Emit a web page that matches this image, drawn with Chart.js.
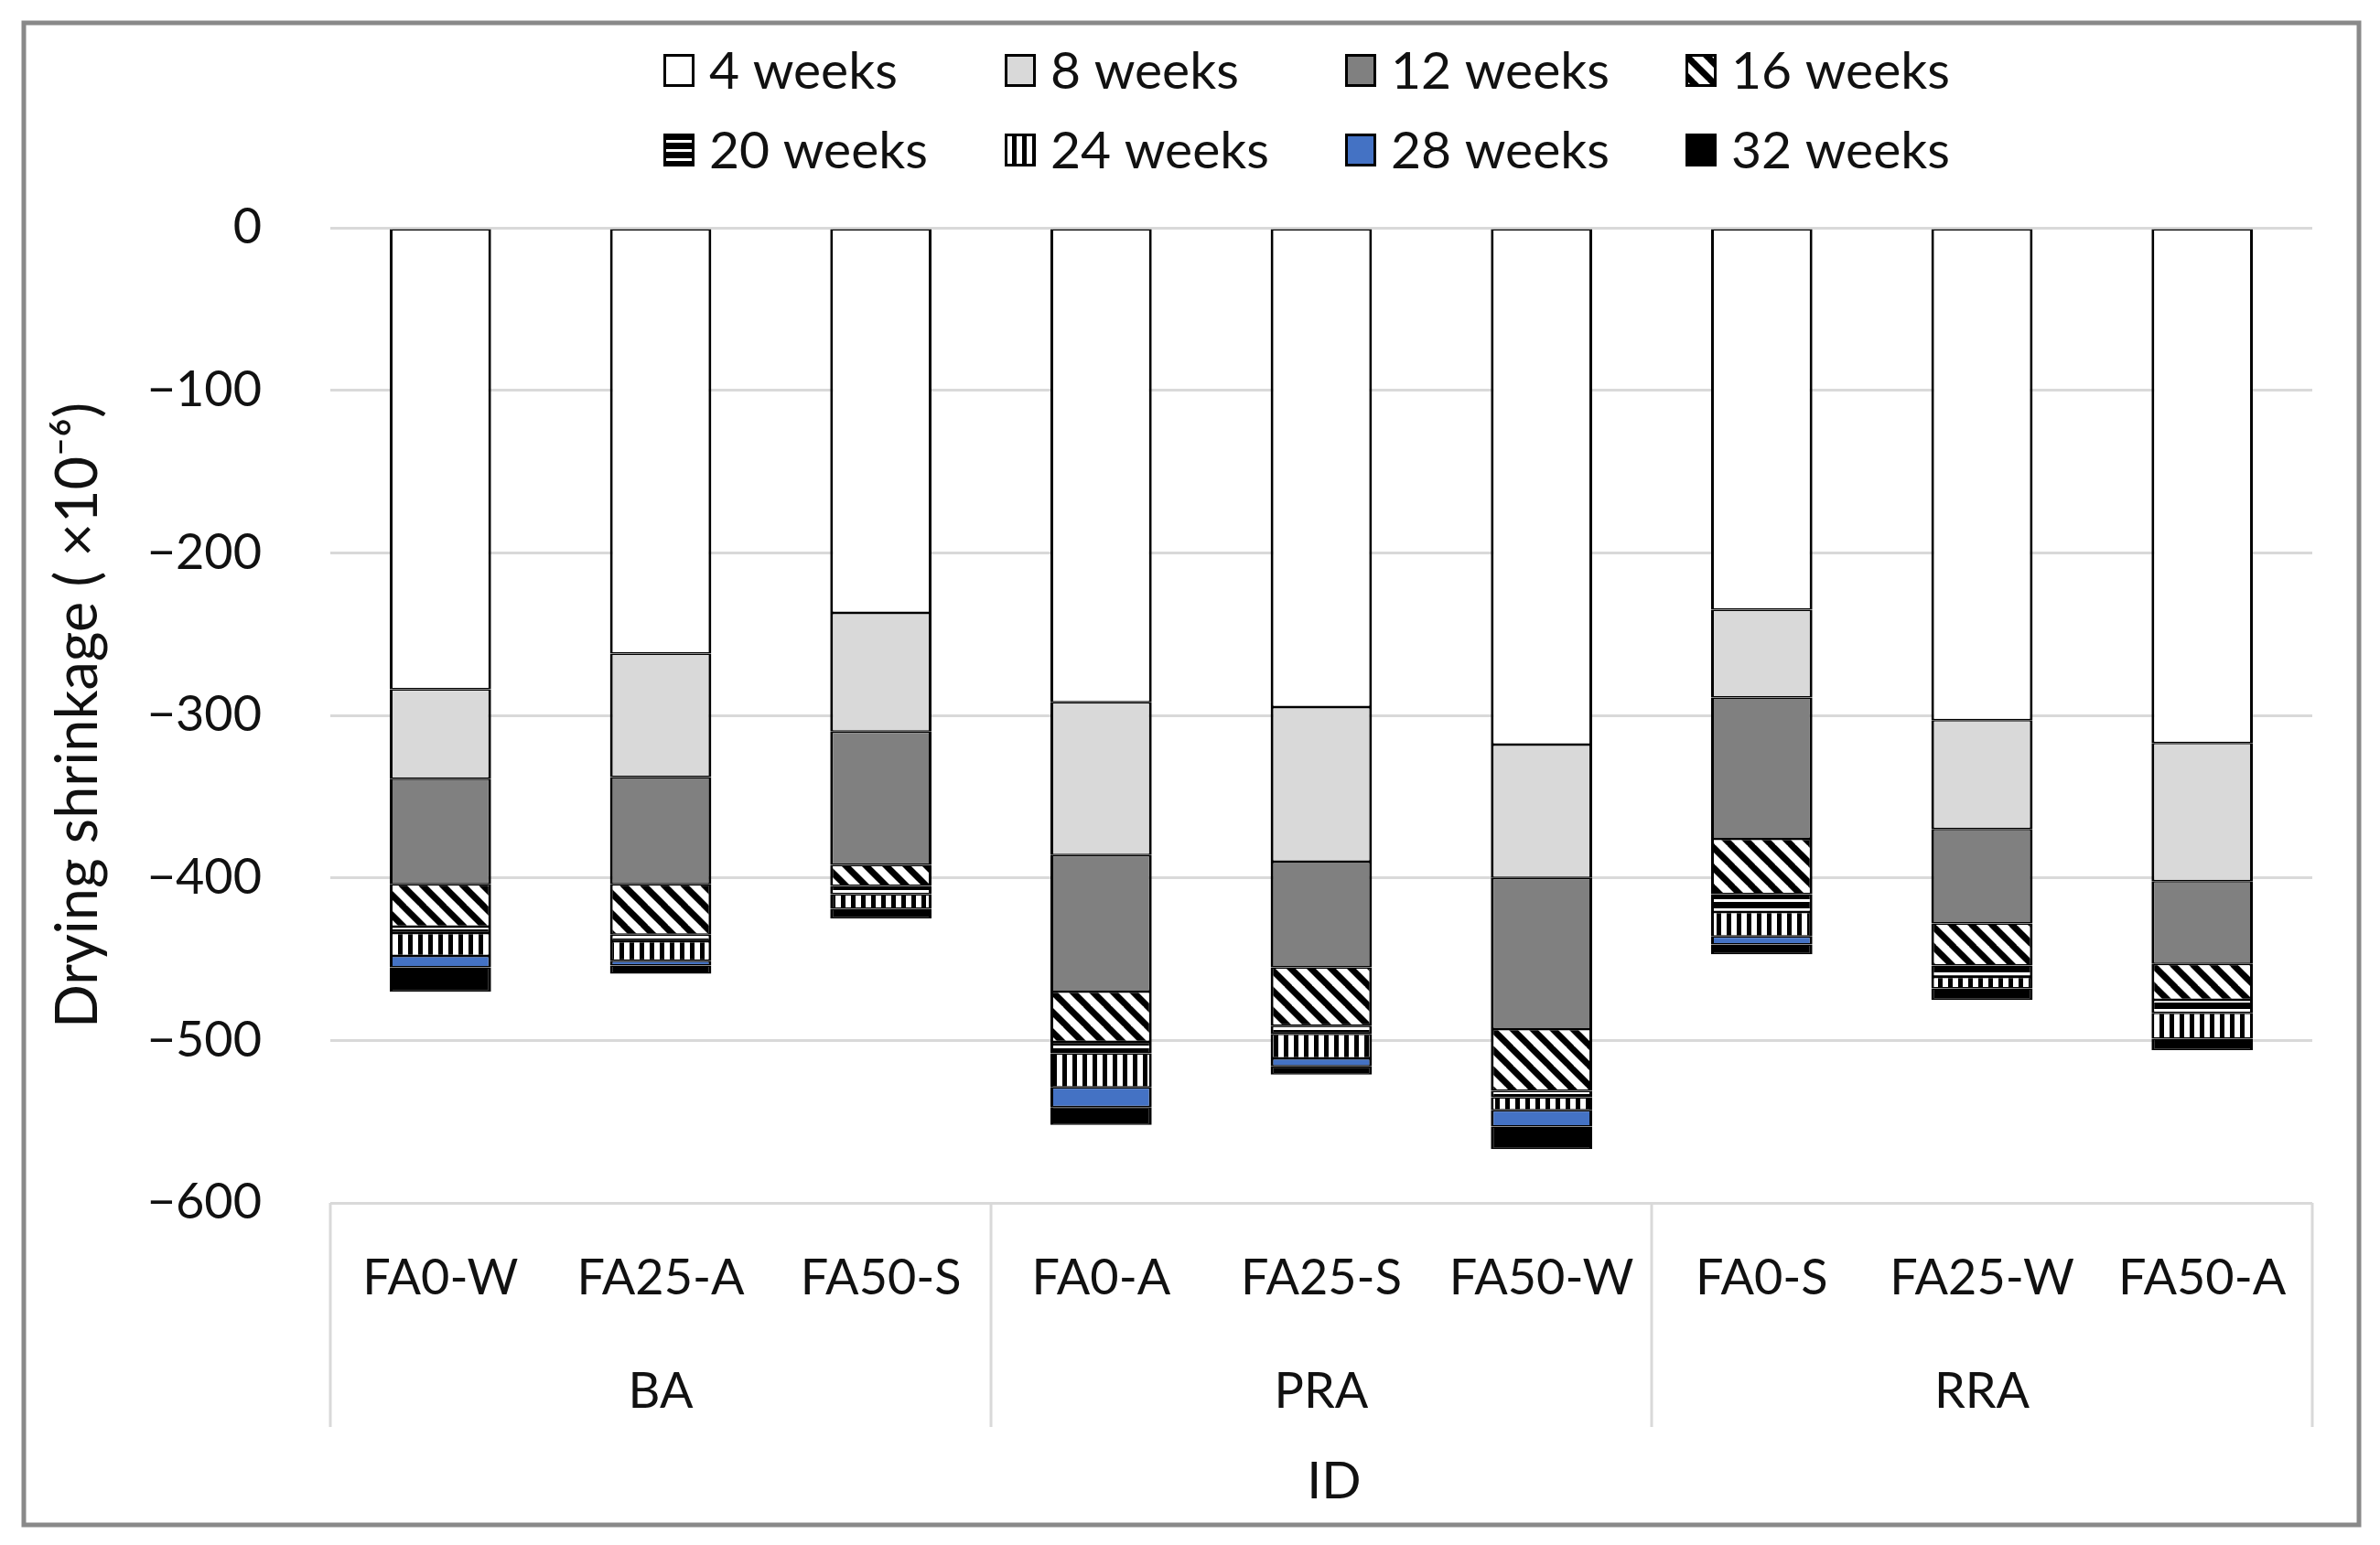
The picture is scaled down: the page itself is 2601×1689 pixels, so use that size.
<!DOCTYPE html>
<html>
<head>
<meta charset="utf-8">
<script src="https://cdn.jsdelivr.net/npm/chart.js@4.4.0/dist/chart.umd.min.js"></script>
<style>
    html, body { margin: 0; padding: 0; background: #fff; }
    #wrap { width: 2601px; height: 1689px; }
</style>
</head>
<body>
<div id="wrap"><canvas id="myChart" width="2601" height="1689"></canvas></div>
<script>
// sample ids along the x axis, and the aggregate groups under them
const sampleIds = ['FA0-W', 'FA25-A', 'FA50-S', 'FA0-A', 'FA25-S', 'FA50-W', 'FA0-S', 'FA25-W', 'FA50-A'];
const groupNames = ['BA', 'PRA', 'RRA'];
const weekLabels = ['4 weeks', '8 weeks', '12 weeks', '16 weeks', '20 weeks', '24 weeks', '28 weeks', '32 weeks'];
const yTicks = [0, -100, -200, -300, -400, -500, -600];

// shrinkage increments per period (x10^-6)
const week4  = [-284, -262, -237, -292, -295, -318, -235, -303, -317];
const week8  = [-55, -76, -73, -94, -95, -82, -54, -67, -85];
const week12 = [-65, -66, -82, -84, -65, -93, -87, -58, -51];
const week16 = [-26, -31, -13, -31, -36, -38, -34, -26, -22];
const week20 = [-4, -4, -5, -7, -5, -4, -11, -7, -8];
const week24 = [-14, -12, -9, -21, -15, -8, -15, -7, -16];
const week28 = [-7, -3, 0, -12, -5, -10, -5, 0, 0];
const week32 = [-15, -5, -6, -11, -5, -14, -6, -7, -7];

const FONT = 'Lato';

function makePattern(kind) {
    const tile = document.createElement('canvas');
    const c = tile.getContext('2d');
    if (kind === 'diag') {
        const s = 22;
        tile.width = s; tile.height = s;
        c.fillStyle = '#fff';
        c.fillRect(0, 0, s, s);
        c.strokeStyle = '#000';
        c.lineWidth = 7;
        for (let k = -1; k <= 1; k++) {
            c.beginPath();
            c.moveTo(k * s - 2, -2);
            c.lineTo(k * s + s + 2, s + 2);
            c.stroke();
        }
    } else if (kind === 'horiz') {
        tile.width = 10; tile.height = 10;
        c.fillStyle = '#000';
        c.fillRect(0, 0, 10, 10);
        c.fillStyle = '#fff';
        c.fillRect(0, 3, 10, 3);
    } else {
        tile.width = 11; tile.height = 11;
        c.fillStyle = '#000';
        c.fillRect(0, 0, 11, 11);
        c.fillStyle = '#fff';
        c.fillRect(0, 0, 6, 11);
    }
    return document.createElement('canvas').getContext('2d').createPattern(tile, 'repeat');
}

const fills = [
    '#ffffff',
    '#d9d9d9',
    '#808080',
    makePattern('diag'),
    makePattern('horiz'),
    makePattern('vert'),
    '#4472c4',
    '#000000'
];
const series = [week4, week8, week12, week16, week20, week24, week28, week32];

const datasets = series.map((vals, i) => ({
    label: weekLabels[i],
    data: vals,
    backgroundColor: fills[i],
    borderColor: '#000',
    borderWidth: { left: 3, right: 3, top: 1.5, bottom: 1.5 },
    borderSkipped: false,
    barPercentage: 0.46,
    categoryPercentage: 1.0
}));

// legend laid out on a fixed grid, plus frame, group labels and separators
const extras = {
    id: 'extras',
    beforeDraw(chart) {
        const ctx = chart.ctx;
        ctx.save();
        ctx.fillStyle = '#fff';
        ctx.fillRect(0, 0, chart.width, chart.height);
        ctx.restore();
    },
    afterDraw(chart) {
        const ctx = chart.ctx;
        const area = chart.chartArea;
        ctx.save();

        // outer frame
        ctx.strokeStyle = '#898989';
        ctx.lineWidth = 5;
        ctx.strokeRect(26, 25, 2552, 1642);

        // legend
        const colX = [725, 1098, 1470, 1842];
        const rowY = [77, 164];
        ctx.font = '57px ' + FONT;
        ctx.textBaseline = 'middle';
        ctx.textAlign = 'left';
        chart.data.datasets.forEach((ds, i) => {
            const x = colX[i % 4];
            const y = rowY[Math.floor(i / 4)];
            ctx.fillStyle = ds.backgroundColor;
            ctx.fillRect(x, y - 18, 34, 36);
            ctx.strokeStyle = '#000';
            ctx.lineWidth = 3;
            ctx.strokeRect(x + 1.5, y - 16.5, 31, 33);
            ctx.fillStyle = '#111';
            ctx.fillText(ds.label, x + 50, y + 2);
        });

        // group separators and labels
        const cw = (area.right - area.left) / sampleIds.length;
        ctx.strokeStyle = '#d9d9d9';
        ctx.lineWidth = 3;
        for (let k = 0; k <= groupNames.length; k++) {
            const x = area.left + k * 3 * cw;
            ctx.beginPath();
            ctx.moveTo(x, area.bottom);
            ctx.lineTo(x, 1560);
            ctx.stroke();
        }
        ctx.fillStyle = '#111';
        ctx.textAlign = 'center';
        ctx.font = '54px ' + FONT;
        groupNames.forEach((g, k) => {
            ctx.fillText(g, area.left + (k * 3 + 1.5) * cw, 1522);
        });

        // axis title under the groups
        ctx.font = '57px ' + FONT;
        ctx.fillText('ID', 1458, 1620);
        ctx.restore();
    }
};

const ctx = document.getElementById('myChart').getContext('2d');
new Chart(ctx, {
    type: 'bar',
    data: { labels: sampleIds, datasets: datasets },
    options: {
        responsive: false,
        devicePixelRatio: 1,
        animation: false,
        layout: { padding: { left: 44, right: 74, top: 249, bottom: 35 } },
        plugins: {
            legend: { display: false },
            tooltip: { enabled: false }
        },
        scales: {
            x: {
                stacked: true,
                grid: { display: false, drawTicks: false },
                border: { display: false },
                ticks: {
                    color: '#111',
                    font: { family: FONT, size: 54 },
                    padding: 50,
                    maxRotation: 0,
                    autoSkip: false
                },
                afterFit: (scale) => { scale.height = 339; }
            },
            y: {
                stacked: true,
                min: -600,
                max: 0,
                afterBuildTicks: (scale) => { scale.ticks = yTicks.map(v => ({ value: v })); },
                grid: { color: '#d9d9d9', lineWidth: 3, drawTicks: false },
                border: { display: false },
                ticks: {
                    color: '#111',
                    font: { family: FONT, size: 54 },
                    padding: 75,
                    callback: (v) => v < 0 ? '\u2212' + Math.abs(v) : String(v)
                },
                title: {
                    display: true,
                    text: 'Drying shrinkage ( \u00d710\u207b\u2076)',
                    color: '#111',
                    font: { family: FONT, size: 63 }
                },
                afterFit: (scale) => { scale.width = 317; }
            }
        }
    },
    plugins: [extras]
});
</script>
</body>
</html>
